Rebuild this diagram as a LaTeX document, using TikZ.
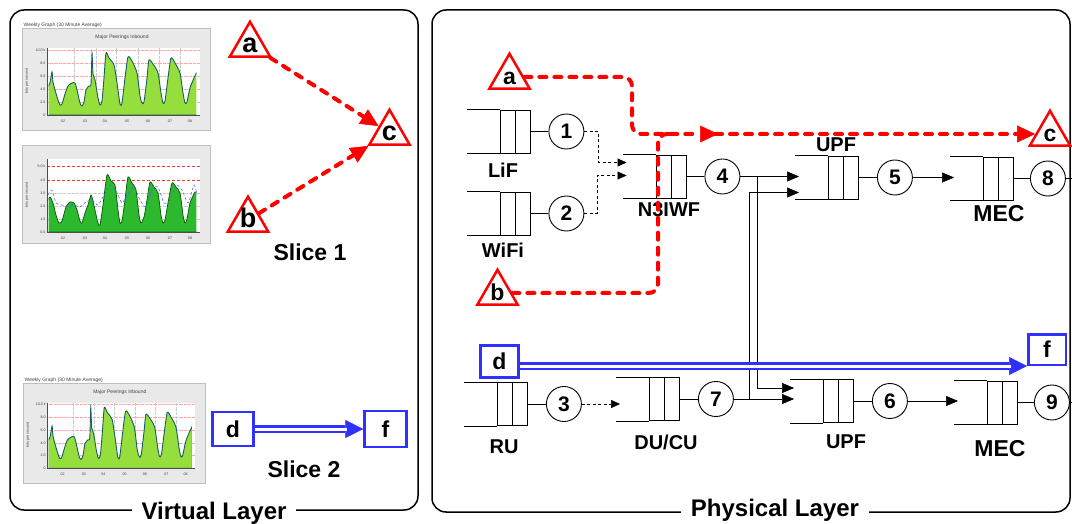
\documentclass[tikz,border=0pt]{standalone}
\usepackage{fontspec}
\setmainfont{Liberation Sans}
\usetikzlibrary{positioning,arrows.meta,shapes.geometric}

\definecolor{sliceblue}{RGB}{48,48,255}
\definecolor{lightgreen}{RGB}{150,222,60}
\definecolor{midgreen}{RGB}{45,185,45}
\definecolor{framegray}{RGB}{233,233,233}
\definecolor{curveteal}{RGB}{20,95,95}

\tikzset{
  tri/.style={regular polygon, regular polygon sides=3, draw=red, line width=2.5pt,
    minimum size=46.5pt, inner sep=0pt, text height=15pt, text depth=0pt,
    font=\fontsize{23}{23}\selectfont\bfseries},
  bigtri/.style={tri, text height=16pt, font=\fontsize{27}{27}\selectfont\bfseries},
  slicebox/.style={draw=sliceblue, line width=2.5pt, inner sep=0pt,
    font=\fontsize{23}{23}\selectfont\bfseries},
  num/.style={circle, draw, line width=0.9pt, minimum size=35pt, inner sep=0pt,
    font=\fontsize{21}{21}\selectfont\bfseries},
  qbox/.style={draw, line width=0.9pt, minimum width=30pt, minimum height=43pt, inner sep=0pt,
    path picture={\draw[line width=0.9pt] (path picture bounding box.north) -- (path picture bounding box.south);}},
  qlabel/.style={font=\fontsize{20}{20}\selectfont\bfseries},
  meclabel/.style={font=\fontsize{23}{23}\selectfont\bfseries},
  slicelabel/.style={font=\fontsize{23}{23}\selectfont\bfseries},
  layer/.style={fill=white, inner xsep=10pt, inner ysep=1pt, font=\fontsize{24}{24}\selectfont\bfseries},
  panel/.style={draw, line width=1.5pt, rounded corners=14pt},
  redflow/.style={draw=red, line width=4pt, line cap=round, dash pattern=on 7pt off 8pt},
  redtip/.style={-{Triangle[length=18pt,width=17pt,line width=0.5pt]}},
  flow/.style={draw, line width=0.9pt, -{Triangle[length=12pt,width=10pt,line width=0.5pt]}},
  dflow/.style={draw, line width=0.9pt, dash pattern=on 3pt off 2.5pt, -{Triangle[length=9pt,width=8pt,line width=0.5pt]}},
  blueflow/.style={draw=sliceblue, line width=7.5pt, -{Triangle[length=18pt,width=18pt,line width=0.5pt]}},
  chartfont/.style={font=\fontsize{5}{5}\selectfont, inner sep=0.5pt, text=black!75},
  ticklabel/.style={font=\fontsize{3.6}{4}\selectfont, inner sep=0.4pt, text=black!75},
}

% a queue: three cells plus the open part on the left
\newcommand{\netqueue}[2]{%
  \node[qbox] (#1) at (#2) {};
  \draw[line width=0.9pt] (#1.north west) -- ++(-33,0) (#1.south west) -- ++(-33,0);
  \coordinate (#1-in) at ([xshift=-29pt]#1.west);}

% weekly traffic graph, origin at top left of its frame
\newcommand{\weeklychart}{%
  \fill[framegray] (0,0) rectangle (188,102);
  \draw[black!25, line width=0.4pt] (0,0) rectangle (188,102);
  \fill[white] (25,20) rectangle (178,87);
  \foreach \gy in {22,35,48,61,74}
    \draw[red!35, densely dotted, line width=0.3pt] (25,\gy) -- (178,\gy);
  \foreach \gx in {52,74,94,116,137,158}
    \draw[black!20, densely dotted, line width=0.3pt] (\gx,20) -- (\gx,87);
  \begin{scope}
    \clip (26.6,10) rectangle (174.4,86.4);
    \filldraw[fill=lightgreen, draw=curveteal, line width=0.9pt] (26,87) -- plot[smooth, tension=0.4] coordinates {
      (26,59) (28,55) (30,44) (31,54) (33,62) (36,72) (38,77) (40,76) (43,66) (46,58) (50,55) (53,55)
      (55,62) (58,75) (60,78) (62,74) (64,62) (67,58) (69,56) (70,25) (71,46) (73,52) (76,70) (78,77)
      (80,73) (82,50) (84,25) (87,30) (92,37) (95,55) (98,76) (100,75) (103,50) (106,29) (110,33)
      (115,45) (118,68) (120,75) (122,74) (125,50) (127,32) (131,36) (136,45) (139,65) (141,75)
      (143,73) (146,50) (149,30) (153,35) (158,45) (161,65) (163,75) (165,74) (168,60) (172,50) (175,44)}
      -- (175,87) -- cycle;
  \end{scope}
  \draw[black!70, line width=0.4pt] (25,20) -- (25,87) -- (178,87);
  \node[chartfont, anchor=west] at (1,-3) {Weekly Graph (30 Minute Average)};
  \node[chartfont] at (100,9) {Major Peerings Inbound};
  \foreach \yl/\gy in {10.0 k/22, 8.0/35, 6.0/48, 4.0/61, 2.0/74, 0/87}
    \node[ticklabel, anchor=east] at (24,\gy) {\yl};
  \foreach \xl/\gx in {02/41, 03/63, 04/83, 05/105, 06/126, 07/148, 08/168}
    \node[ticklabel] at (\gx,93) {\xl};
  \node[ticklabel, rotate=90] at (5,53) {bits per second};
}

\begin{document}
\begin{tikzpicture}[x=1pt, y=-1pt]
\useasboundingbox (0,0) rectangle (1072,524);

% the two layers
\draw[panel] (10,10) rectangle (418,510);
\draw[panel] (432,10) rectangle (1070,512);

% graphs of the virtual layer
\begin{scope}[shift={(22,28)}]
  \weeklychart
\end{scope}

\begin{scope}[shift={(22,145)}]
  \fill[framegray] (0,0) rectangle (188,98);
  \draw[black!25, line width=0.4pt] (0,0) rectangle (188,98);
  \fill[white] (25,14) rectangle (178,87);
  \foreach \gy in {48,61,74}
    \draw[black!20, densely dotted, line width=0.3pt] (25,\gy) -- (178,\gy);
  \foreach \gy in {21,35}
    \draw[red!80, densely dashed, line width=0.4pt] (25,\gy) -- (178,\gy);
  \begin{scope}
    \clip (26.6,0) rectangle (174.4,86.4);
    \filldraw[fill=midgreen, draw=green!35!black, line width=0.7pt] (26,87) -- plot[smooth, tension=0.4] coordinates {
      (26,55) (28,52) (31,58) (34,70) (37,78) (40,76) (44,62) (48,57) (52,58) (55,65) (58,76) (60,78)
      (63,68) (66,60) (69,50) (71,56) (73,65) (76,78) (78,80) (81,60) (85,30) (89,36) (93,40) (96,65)
      (98,78) (100,76) (103,55) (106,32) (110,38) (114,45) (117,70) (119,78) (122,72) (125,55) (128,37)
      (132,42) (136,48) (139,70) (141,78) (143,75) (146,58) (150,38) (154,42) (158,48) (161,70) (163,78)
      (165,74) (168,58) (173,47) (175,48)}
      -- (175,87) -- cycle;
  \end{scope}
  \draw[blue!65, densely dashed, line width=0.5pt] plot[smooth, tension=0.4] coordinates {
    (26,50) (30,45) (34,58) (40,60) (46,62) (52,60) (58,62) (64,57) (70,55) (76,60) (82,50) (88,40)
    (94,45) (100,58) (106,48) (112,42) (118,55) (124,62) (130,45) (136,42) (142,58) (148,55) (154,40)
    (160,45) (166,58) (172,40) (175,50)};
  \draw[black!70, line width=0.4pt] (25,14) -- (25,87) -- (178,87);
  \foreach \yl/\gy in {5.0 k/21, 4.0/35, 3.0/48, 2.0/61, 1.0/74, 0.0/87}
    \node[ticklabel, anchor=east] at (24,\gy) {\yl};
  \foreach \xl/\gx in {02/41, 03/63, 04/83, 05/105, 06/126, 07/148, 08/168}
    \node[ticklabel] at (\gx,93) {\xl};
  \node[ticklabel, rotate=90] at (5,50) {bits per second};
\end{scope}

\begin{scope}[shift={(23,383)}, xscale=0.968, yscale=0.98]
  \weeklychart
\end{scope}

% slice 1
\node[bigtri] (aL) at (250,45) {a};
\node[bigtri] (bL) at (248,220) {b};
\node[bigtri] (cL) at (389.5,133) {c};
\draw[redflow, redtip] (aL) -- (cL);
\draw[redflow, redtip] (bL) -- (cL);
\node[slicelabel] (slice1) at (310,252) {Slice 1};

% slice 2
\node[slicebox, minimum width=41pt, minimum height=34pt] (dL) at (233,429) {d};
\node[slicebox, minimum width=42pt, minimum height=36pt] (fL) at (385.5,429) {f};
\draw[blueflow] (dL) -- (fL);
\draw[white, line width=3pt, shorten >=16pt] (dL) -- (fL);
\node[slicelabel] (slice2) at (304,469) {Slice 2};

\node[layer] (virtual) at (214,513) {Virtual Layer};

% physical layer
\netqueue{lif}{515,131.5}
\netqueue{wifi}{515,213.5}
\netqueue{n3iwf}{671,176.5}
\netqueue{upfa}{843.5,177.5}
\netqueue{meca}{998.5,178.5}
\netqueue{ru}{512.5,404}
\netqueue{ducu}{664.5,399}
\netqueue{upfb}{838.5,401}
\netqueue{mecb}{1002.5,402.5}

\node[qlabel] (liflbl) at (503,170) {LiF};
\node[qlabel] (wifilbl) at (503,250) {WiFi};
\node[qlabel] (n3iwflbl) at (669,210) {N3IWF};
\node[qlabel] (upfalbl) at (836,145) {UPF};
\node[meclabel] (mecalbl) at (999,214) {MEC};
\node[qlabel] (rulbl) at (504,447) {RU};
\node[qlabel] (duculbl) at (666,442) {DU/CU};
\node[qlabel] (upfblbl) at (846,442) {UPF};
\node[meclabel] (mecblbl) at (1000,449) {MEC};

\node[num, right=18pt of lif] (n1) {1};
\node[num, right=18pt of wifi] (n2) {2};
\node[num, right=18pt of n3iwf] (n4) {4};
\node[num, right=18pt of upfa] (n5) {5};
\node[num, right=16pt of meca] (n8) {8};
\node[num, right=18pt of ru] (n3) {3};
\node[num, right=18pt of ducu] (n7) {7};
\node[num, right=18pt of upfb] (n6) {6};
\node[num, right=16pt of mecb] (n9) {9};

\foreach \q/\n in {lif/n1, wifi/n2, n3iwf/n4, upfa/n5, meca/n8, ru/n3, ducu/n7, upfb/n6, mecb/n9}
  \draw[line width=0.9pt] (\q) -- (\n);
\coordinate (out8) at (1072,178.5);
\coordinate (out9) at (1072,402.5);
\draw[line width=0.9pt] (n8) -- (out8);
\draw[line width=0.9pt] (n9) -- (out9);

\draw[dflow] (n1.east) -- ++(14,0) |- ([yshift=14pt]n3iwf-in);
\draw[dflow] (n2.east) -- ++(13,0) |- ([yshift=1pt]n3iwf-in);
\draw[dflow] (n3.east) -- (n3.east -| ducu-in);
\draw[flow] (n4.east) -- (n4.east -| upfa-in);
\draw[flow] (n4.east) -- ++(17,0) |- ([yshift=13pt]upfb-in);
\draw[flow] (n7.east) -- ++(16,0) |- ([yshift=-15pt]upfa-in);
\draw[flow] (n7.east) -- (n7.east -| upfb-in);
\draw[flow] (n5.east) -- (n5.east -| meca-in);
\draw[flow] (n6.east) -- (n6.east -| mecb-in);

% slice 1 mapped on the network
\node[tri] (aR) at (509.5,77) {a};
\node[tri] (bR) at (497.5,293) {b};
\node[tri] (cR) at (1050,134) {c};
\coordinate (ajoin) at (632,134);
\coordinate (bjoin) at (658,134);
\coordinate (midtip) at (718,134);
\draw[redflow, redtip, rounded corners=9pt] (aR) -| (ajoin) -- (midtip);
\draw[redflow, rounded corners=9pt] (bR) -| (bjoin) -- (676,134);
\draw[redflow, redtip] ([xshift=-3pt]midtip) -- (cR);

% slice 2 mapped on the network
\node[slicebox, minimum width=38pt, minimum height=32pt] (dR) at (499.5,361.5) {d};
\node[slicebox, minimum width=37.5pt, minimum height=30.5pt] (fR) at (1047,349.5) {f};
\draw[blueflow] (dR.east |- fR.south west) -- (fR.south west);
\draw[white, line width=3pt, shorten >=16pt] (dR.east |- fR.south west) -- (fR.south west);

\node[layer] (physical) at (775,510.5) {Physical Layer};
\end{tikzpicture}
\end{document}
